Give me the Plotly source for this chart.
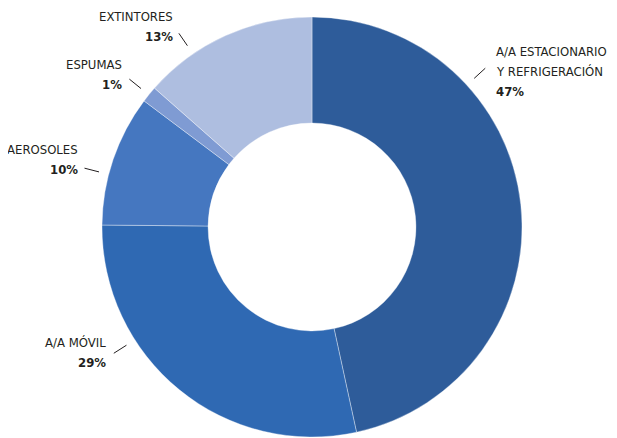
import math
import plotly.graph_objects as go

# ---- data ----
categories = ["A/A ESTACIONARIO<br>Y REFRIGERACIÓN", "A/A MÓVIL", "AEROSOLES", "ESPUMAS", "EXTINTORES"]
values = [46.6, 28.55, 10.1, 1.25, 13.5]
pct_labels = ["47%", "29%", "10%", "1%", "13%"]

# ---- style ----
W, H = 617, 438
OFF = 8                              # page body margin in the browser
CX, CY, R = 312 - OFF, 227 - OFF, 210  # pie centre / radius in pixels (within the plot div)
colors = ["#2E5C9A", "#2F69B3", "#4577C0", "#7F9BD3", "#AEBEE0"]
label_angle = [47.5, 237.5, 284.5, 309.0, 325.5]   # degrees clockwise from 12 o'clock
block_dy = [3.5, -1, -8.5, -5, -7]                  # label block centre vs. leader end (px, down)
label_xgap = [9, 6, 4, 5, 4]
LINE_PITCH = 20
R1, R2 = 220, 235
FONT = "DejaVu Sans Condensed, DejaVu Sans, sans-serif"
FSIZE = 13
TXT = "#231F20"

fig = go.Figure(go.Pie(
    labels=[c.replace("<br>", " ") for c in categories],
    values=values,
    sort=False,
    direction="clockwise",
    rotation=0,
    hole=0.495,
    textinfo="none",
    hoverinfo="skip",
    marker=dict(colors=colors, line=dict(color="rgba(255,255,255,0.6)", width=0.6)),
    domain=dict(x=[(CX - R) / W, (CX + R) / W], y=[1 - (CY + R) / H, 1 - (CY - R) / H]),
    showlegend=False,
))

def polar_px(r, ang):
    a = math.radians(ang)
    return CX + r * math.sin(a), CY - r * math.cos(a)

shapes, annotations = [], []
for i, cat in enumerate(categories):
    ang = label_angle[i]
    px1, py1 = polar_px(R1, ang)
    px2, py2 = polar_px(R2, ang)
    shapes.append(dict(type="line", xref="paper", yref="paper",
                       x0=px1 / W, y0=1 - py1 / H, x1=px2 / W, y1=1 - py2 / H,
                       line=dict(color=TXT, width=1)))
    right_side = ang < 180
    lines = cat.split("<br>") + [f"<b>{pct_labels[i]}</b>"]
    n = len(lines)
    centre = py2 + block_dy[i]
    for k, txt in enumerate(lines):
        ly = centre + (k - (n - 1) / 2) * LINE_PITCH
        annotations.append(dict(
            xref="paper", yref="paper", x=px2 / W, y=1 - ly / H,
            text=txt, showarrow=False,
            xanchor="left" if right_side else "right",
            yanchor="middle",
            xshift=label_xgap[i] if right_side else -label_xgap[i],
            font=dict(family=FONT, size=FSIZE, color=TXT),
        ))

fig.update_layout(
    width=W, height=H,
    margin=dict(l=0, r=0, t=0, b=0),
    paper_bgcolor="white", plot_bgcolor="white",
    shapes=shapes, annotations=annotations,
)
fig.write_html("out.html")
